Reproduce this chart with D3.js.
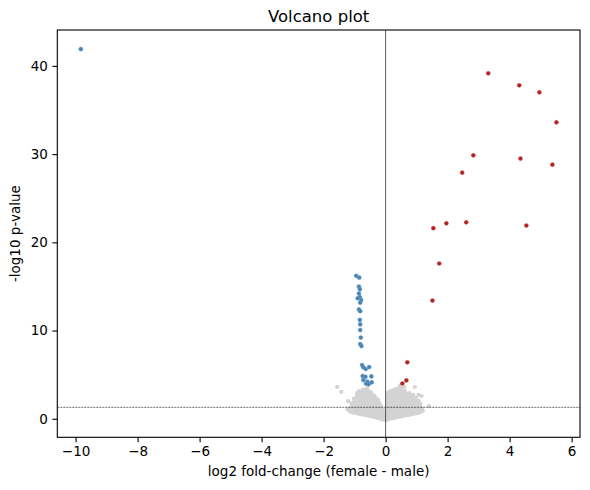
<!DOCTYPE html>
<html>
<head>
<meta charset="utf-8">
<script src="https://cdn.jsdelivr.net/npm/d3@7"></script>
<style>
  body { margin: 0; background: #fff; }
  svg { font-family: "DejaVu Sans", sans-serif; }
  .tick text { font-size: 13.5px; fill: #000; }
</style>
</head>
<body>
<svg width="590" height="490"></svg>
<script>
// significant down-regulated genes (log2FC, -log10 p)
const downGenes = [
  [-9.83, 41.9],
  [-0.95, 16.2], [-0.85, 16.0], [-0.86, 14.97], [-0.83, 14.67], [-0.86, 14.2],
  [-0.83, 13.8], [-0.9, 13.65], [-0.79, 13.46], [-0.82, 13.15], [-0.86, 12.4],
  [-0.82, 12.2], [-0.83, 11.2], [-0.82, 10.7], [-0.82, 10.06], [-0.8, 9.2],
  [-0.82, 8.47], [-0.78, 8.24], [-0.76, 6.09], [-0.72, 5.83], [-0.64, 5.64],
  [-0.53, 5.86], [-0.74, 4.84], [-0.65, 4.76], [-0.46, 4.8], [-0.72, 4.39],
  [-0.59, 4.2], [-0.45, 4.13], [-0.63, 3.97], [-0.55, 3.9]
];

// significant up-regulated genes
const upGenes = [
  [3.31, 39.16], [4.31, 37.8], [4.96, 37.0], [5.51, 33.6], [2.83, 29.86],
  [4.35, 29.5], [5.38, 28.8], [2.47, 27.9], [1.54, 21.6], [1.96, 22.15],
  [2.6, 22.27], [4.54, 21.9], [1.73, 17.6], [1.51, 13.4], [0.70, 6.4],
  [0.67, 4.35], [0.54, 4.0]
];

// non-significant genes (the grey cloud), read off by eye
const otherGenes = [
  [-1.56, 3.6], [-1.43, 3.06], [-1.2, 2.0], [-1.23, 1.1], [-1.17, 0.9],
  [-1.12, 0.82], [-1.13, 1.25], [-1.1, 1.7], [-1.06, 0.7], [-1.04, 1.05], [-1.05, 1.42], [-1.03, 1.9], [-1.02, 2.3],
  [-0.97, 0.66], [-0.98, 1.0], [-0.96, 1.33], [-0.97, 1.72], [-0.95, 2.12], [-0.93, 2.55], [-0.92, 2.9],
  [-0.9, 0.6], [-0.91, 0.93], [-0.89, 1.3], [-0.9, 1.66], [-0.88, 2.02], [-0.89, 2.42], [-0.87, 2.8], [-0.86, 3.14],
  [-0.84, 0.55], [-0.83, 0.9], [-0.84, 1.24], [-0.82, 1.6], [-0.83, 1.96], [-0.81, 2.3], [-0.82, 2.66], [-0.8, 3.05],
  [-0.77, 0.5], [-0.76, 0.84], [-0.78, 1.2], [-0.75, 1.56], [-0.77, 1.9], [-0.76, 2.25], [-0.74, 2.6], [-0.76, 2.96], [-0.73, 3.3],
  [-0.7, 0.45], [-0.69, 0.8], [-0.71, 1.15], [-0.68, 1.5], [-0.7, 1.86], [-0.69, 2.2], [-0.67, 2.56], [-0.7, 2.9], [-0.68, 3.25],
  [-0.63, 0.4], [-0.62, 0.74], [-0.64, 1.1], [-0.61, 1.45], [-0.63, 1.8], [-0.62, 2.16], [-0.6, 2.5], [-0.63, 2.86], [-0.61, 3.2], [-0.6, 3.45],
  [-0.56, 0.35], [-0.55, 0.7], [-0.57, 1.05], [-0.54, 1.4], [-0.56, 1.76], [-0.55, 2.1], [-0.53, 2.45], [-0.56, 2.8], [-0.54, 3.1],
  [-0.49, 0.3], [-0.48, 0.66], [-0.5, 1.0], [-0.47, 1.35], [-0.49, 1.7], [-0.48, 2.05], [-0.46, 2.4], [-0.49, 2.74], [-0.47, 3.0],
  [-0.42, 0.25], [-0.41, 0.6], [-0.43, 0.95], [-0.4, 1.3], [-0.42, 1.65], [-0.41, 2.0], [-0.39, 2.35], [-0.42, 2.7],
  [-0.35, 0.18], [-0.34, 0.55], [-0.36, 0.9], [-0.33, 1.25], [-0.35, 1.6], [-0.34, 1.95], [-0.32, 2.3], [-0.35, 2.58],
  [-0.28, 0.1], [-0.27, 0.45], [-0.29, 0.8], [-0.26, 1.15], [-0.28, 1.5], [-0.27, 1.85], [-0.25, 2.18],
  [-0.21, 0.04], [-0.2, 0.4], [-0.22, 0.75], [-0.19, 1.1], [-0.21, 1.45], [-0.2, 1.78],
  [-0.14, -0.02], [-0.13, 0.35], [-0.15, 0.7], [-0.12, 1.05], [-0.14, 1.45],
  [-0.07, -0.1], [-0.06, 0.25], [-0.08, 0.6], [-0.05, 0.95],
  [0.0, -0.15], [0.01, 0.2], [-0.01, 0.5],
  [0.06, -0.1], [0.05, 0.25], [0.07, 0.6], [0.06, 1.0], [0.05, 1.4], [0.07, 1.8], [0.06, 2.2], [0.07, 2.6], [0.06, 2.9],
  [0.13, 0.0], [0.12, 0.35], [0.14, 0.7], [0.13, 1.05], [0.12, 1.4], [0.14, 1.76], [0.13, 2.1], [0.12, 2.46], [0.14, 2.8], [0.13, 3.12],
  [0.2, 0.05], [0.21, 0.4], [0.19, 0.75], [0.2, 1.1], [0.22, 1.45], [0.2, 1.8], [0.19, 2.15], [0.21, 2.5], [0.2, 2.86], [0.22, 3.2],
  [0.27, 0.1], [0.28, 0.45], [0.26, 0.8], [0.27, 1.16], [0.29, 1.5], [0.27, 1.85], [0.26, 2.2], [0.28, 2.55], [0.27, 2.9], [0.29, 3.3],
  [0.34, 0.15], [0.35, 0.5], [0.33, 0.85], [0.34, 1.2], [0.36, 1.55], [0.34, 1.9], [0.33, 2.25], [0.35, 2.6], [0.34, 2.96], [0.36, 3.35],
  [0.41, 0.2], [0.42, 0.55], [0.4, 0.9], [0.41, 1.25], [0.43, 1.6], [0.41, 1.95], [0.4, 2.3], [0.42, 2.66], [0.41, 3.0], [0.43, 3.4], [0.45, 3.7],
  [0.48, 0.25], [0.49, 0.6], [0.47, 0.95], [0.48, 1.3], [0.5, 1.66], [0.48, 2.0], [0.47, 2.35], [0.49, 2.7], [0.48, 3.06], [0.5, 3.45],
  [0.55, 0.3], [0.56, 0.65], [0.54, 1.0], [0.55, 1.35], [0.57, 1.7], [0.55, 2.05], [0.54, 2.4], [0.56, 2.76], [0.55, 3.1], [0.6, 3.6],
  [0.62, 0.35], [0.63, 0.7], [0.61, 1.05], [0.62, 1.4], [0.64, 1.76], [0.62, 2.1], [0.61, 2.45], [0.63, 2.8], [0.62, 3.15],
  [0.69, 0.4], [0.7, 0.75], [0.68, 1.1], [0.69, 1.45], [0.71, 1.8], [0.69, 2.16], [0.68, 2.5], [0.7, 2.85],
  [0.76, 0.45], [0.77, 0.8], [0.75, 1.15], [0.76, 1.5], [0.78, 1.86], [0.76, 2.2], [0.75, 2.55], [0.77, 2.9],
  [0.83, 0.5], [0.84, 0.85], [0.82, 1.2], [0.83, 1.55], [0.85, 1.9], [0.83, 2.25], [0.82, 2.6],
  [0.9, 0.55], [0.91, 0.9], [0.89, 1.25], [0.9, 1.6], [0.92, 1.96], [0.9, 2.3], [0.89, 2.7],
  [0.97, 0.6], [0.98, 0.95], [0.96, 1.3], [0.97, 1.65], [0.99, 2.0], [0.97, 2.4],
  [1.04, 0.65], [1.05, 1.0], [1.03, 1.35], [1.04, 1.7], [1.06, 2.06],
  [1.11, 0.75], [1.12, 1.07], [1.1, 1.4], [1.12, 1.75], [1.16, 1.2],
  [1.16, 2.57], [0.94, 3.6], [1.4, 1.44], [1.2, 0.9], [1.06, 2.7]
];

const pThreshold = 1.301; // -log10(0.05)

const xTicks = [-10, -8, -6, -4, -2, 0, 2, 4, 6];
const yTicks = [0, 10, 20, 30, 40];

const svg = d3.select('svg');
const plotLeft = 57.3, plotRight = 580, plotTop = 30, plotBottom = 437.3;

const x = d3.scaleLinear().domain([-10.59, 6.27]).range([plotLeft, plotRight]);
const y = d3.scaleLinear().domain([-2.1, 44.07]).range([plotBottom, plotTop]);

// grey cloud
svg.append('g')
  .selectAll('circle')
  .data(otherGenes)
  .enter()
  .append('circle')
  .attr('cx', d => x(d[0]))
  .attr('cy', d => y(d[1]))
  .attr('r', 2.1)
  .attr('fill', '#d3d3d3');

// reference lines
svg.append('line')
  .attr('x1', x(0)).attr('x2', x(0))
  .attr('y1', plotTop).attr('y2', plotBottom)
  .attr('stroke', '#333')
  .attr('stroke-width', 0.8);

svg.append('line')
  .attr('x1', plotLeft).attr('x2', plotRight)
  .attr('y1', y(pThreshold)).attr('y2', y(pThreshold))
  .attr('stroke', '#000')
  .attr('stroke-width', 0.6)
  .attr('stroke-dasharray', '2,1');

svg.append('g')
  .selectAll('circle')
  .data(downGenes)
  .enter()
  .append('circle')
  .attr('cx', d => x(d[0]))
  .attr('cy', d => y(d[1]))
  .attr('r', 2.1)
  .attr('fill', '#4682b4')
  .attr('stroke', '#7fa8cc')
  .attr('stroke-width', 0.4);

svg.append('g')
  .selectAll('circle')
  .data(upGenes)
  .enter()
  .append('circle')
  .attr('cx', d => x(d[0]))
  .attr('cy', d => y(d[1]))
  .attr('r', 2.1)
  .attr('fill', '#b22222')
  .attr('stroke', '#cc6b6b')
  .attr('stroke-width', 0.4);

// axes
const xAxis = svg.append('g')
  .attr('transform', `translate(0, ${plotBottom})`)
  .call(d3.axisBottom(x).tickValues(xTicks).tickSize(4.9).tickPadding(4.5).tickFormat(d3.format('d')));

const yAxis = svg.append('g')
  .attr('transform', `translate(${plotLeft}, 0)`)
  .call(d3.axisLeft(y).tickValues(yTicks).tickSize(4.9).tickPadding(4.5).tickFormat(d3.format('d')));

[xAxis, yAxis].forEach(a => {
  a.select('.domain').remove();
  a.selectAll('.tick line').attr('stroke', '#000').attr('stroke-width', 1.1);
  a.attr('font-family', null).attr('font-size', null);
});

svg.append('rect')
  .attr('x', plotLeft).attr('y', plotTop)
  .attr('width', plotRight - plotLeft).attr('height', plotBottom - plotTop)
  .attr('fill', 'none')
  .attr('stroke', '#000')
  .attr('stroke-width', 1.1);

svg.append('text')
  .attr('x', (plotLeft + plotRight) / 2)
  .attr('y', 21.7)
  .attr('text-anchor', 'middle')
  .attr('font-size', 16.5)
  .text('Volcano plot');

svg.append('text')
  .attr('x', (plotLeft + plotRight) / 2)
  .attr('y', 476)
  .attr('text-anchor', 'middle')
  .attr('font-size', 13.5)
  .text('log2 fold-change (female - male)');

svg.append('text')
  .attr('transform', `translate(20, ${(plotTop + plotBottom) / 2}) rotate(-90)`)
  .attr('text-anchor', 'middle')
  .attr('font-size', 13.5)
  .text('-log10 p-value');
</script>
</body>
</html>
